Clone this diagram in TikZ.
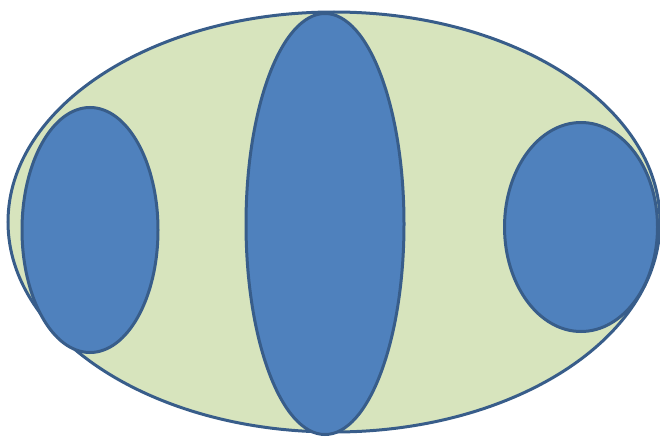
\documentclass[tikz,border=0pt]{standalone}
\usetikzlibrary{shapes.geometric}

\definecolor{pale}{HTML}{D7E4BD}
\definecolor{blob}{HTML}{4F81BD}
\definecolor{rim}{HTML}{385D8A}

\begin{document}
\begin{tikzpicture}[
  x=1pt, y=-1pt,
  region/.style={ellipse, draw=rim, line width=3pt, inner sep=0pt},
  part/.style={region, fill=blob},
]
\useasboundingbox (0,0) rectangle (660,436);

% outer set
\node[region, fill=pale, minimum width=652pt, minimum height=420pt] (whole) at (334,222) {};

% the three parts
\node[part, minimum width=136pt, minimum height=245pt] (left) at (90,230) {};
\node[part, minimum width=158pt, minimum height=421pt] (mid) at (325,224) {};
\node[part, minimum width=153pt, minimum height=209pt] (right) at (581,227) {};

\end{tikzpicture}
\end{document}
